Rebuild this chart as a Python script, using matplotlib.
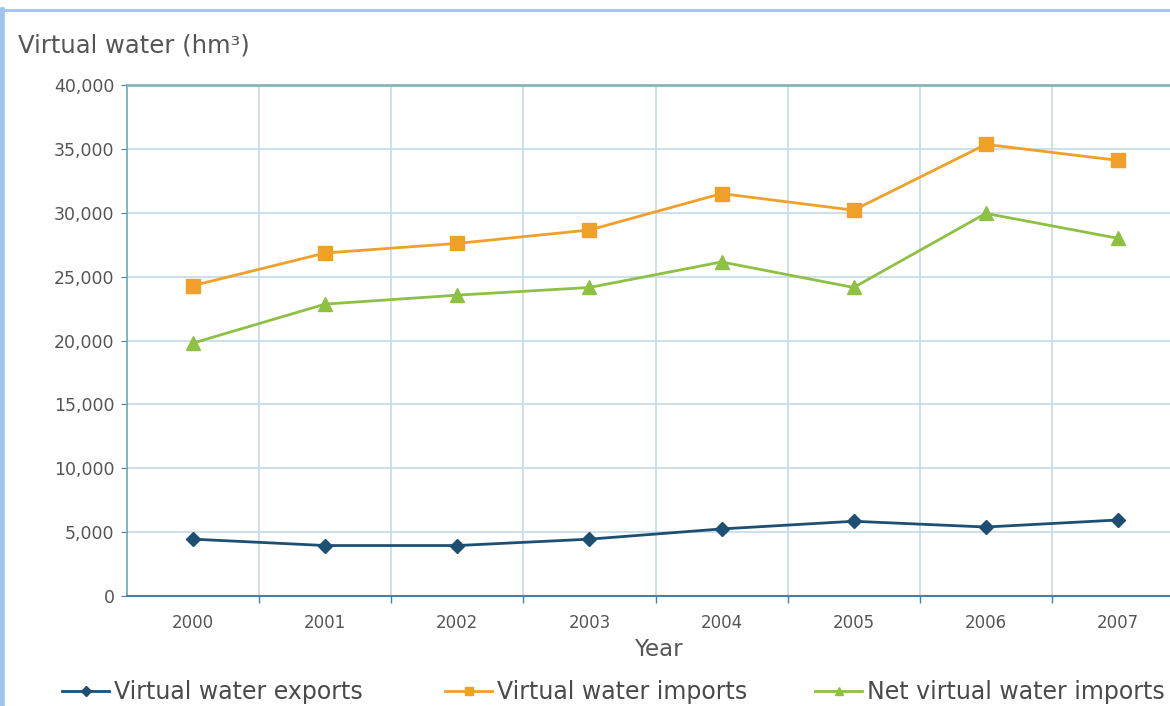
import matplotlib
matplotlib.use("Agg")
import matplotlib.pyplot as plt
from matplotlib.lines import Line2D

years = ["2000", "2001", "2002", "2003", "2004", "2005", "2006", "2007"]
exports = [4450, 3950, 3950, 4450, 5250, 5850, 5400, 5950]
imports = [24300, 26850, 27600, 28650, 31500, 30200, 35350, 34100]
net_imports = [19800, 22850, 23550, 24150, 26150, 24150, 29950, 28000]
y_ticks = [0, 5000, 10000, 15000, 20000, 25000, 30000, 35000, 40000]
y_tick_labels = ["0", "5,000", "10,000", "15,000", "20,000", "25,000",
                 "30,000", "35,000", "40,000"]

series_names = ["Virtual water exports", "Virtual water imports",
                "Net virtual water imports"]
c_exp, c_imp, c_net = "#1d4f73", "#f0a028", "#8dc043"
text_col = "#555555"

plt.rcParams["font.family"] = ["DejaVu Sans"]

fig = plt.figure(figsize=(11.7, 7.06), dpi=100)
W, H = 1170, 706
# plot area runs past the right edge of the figure
ax = fig.add_axes([127 / W, 110 / H, (1184 - 127) / W, 511 / H])

x = list(range(len(years)))
ax.plot(x, exports, color=c_exp, lw=2, marker="D", ms=7, zorder=3)
ax.plot(x, imports, color=c_imp, lw=2, marker="s", ms=10, zorder=3)
ax.plot(x, net_imports, color=c_net, lw=2, marker="^", ms=10, zorder=3)

ax.set_xlim(-0.5, len(years) - 0.5)
ax.set_ylim(0, 40000)
ax.set_xticks(x)
ax.set_xticklabels(years)
ax.set_xticks([i + 0.5 for i in range(len(years) - 1)], minor=True)
ax.set_yticks(y_ticks)
ax.set_yticklabels(y_tick_labels)

grid_col = "#c5dce8"
ax.grid(True, axis="y", which="major", color=grid_col, lw=1.2)
ax.grid(True, axis="x", which="minor", color=grid_col, lw=1.2)
ax.grid(False, axis="x", which="major")
ax.set_axisbelow(True)

ax.tick_params(axis="x", which="major", length=0, pad=13,
               labelsize=12, labelcolor=text_col)
ax.tick_params(axis="x", which="minor", length=5, direction="out",
               color="#4a7fa5", width=1)
ax.tick_params(axis="y", which="major", length=4, direction="out",
               color="#4a7fa5", pad=5, labelsize=12.5, labelcolor=text_col)

ax.spines["right"].set_visible(False)
ax.spines["top"].set_color("#86b6b6")
ax.spines["top"].set_linewidth(2)
ax.spines["left"].set_color("#6aa7b8")
ax.spines["left"].set_linewidth(1.2)
ax.spines["bottom"].set_color("#4a7fa5")
ax.spines["bottom"].set_linewidth(1.5)

fig.text(18 / W, 1 - 45 / H, "Virtual water (hm³)", fontsize=17.5,
         color=text_col, ha="left", va="center")
fig.text(658 / W, 1 - 650 / H, "Year", fontsize=16.5,
         color=text_col, ha="center", va="center")

handles = [
    Line2D([], [], color=c_exp, lw=2, marker="D", ms=5),
    Line2D([], [], color=c_imp, lw=2, marker="s", ms=6),
    Line2D([], [], color=c_net, lw=2, marker="^", ms=6),
]
# one legend entry per series, each anchored at its own left edge
legend_x = [62, 445, 815]
for h, name, lx in zip(handles, series_names, legend_x):
    fig.legend([h], [name], loc="center left",
               bbox_to_anchor=(lx / W, 1 - 692 / H), frameon=False,
               fontsize=17, labelcolor="#4a4a4a", handlelength=2.0,
               handletextpad=0.2, borderaxespad=0, borderpad=0)

# frame lines at the top and left of the panel
frame_col = "#9fc3ea"
fig.add_artist(Line2D([0, 1], [1 - 10 / H, 1 - 10 / H],
                      transform=fig.transFigure, color=frame_col, lw=2))
fig.add_artist(Line2D([2 / W, 2 / W], [0, 1 - 10 / H],
                      transform=fig.transFigure, color=frame_col, lw=4))

fig.savefig("out.png", dpi=100)
